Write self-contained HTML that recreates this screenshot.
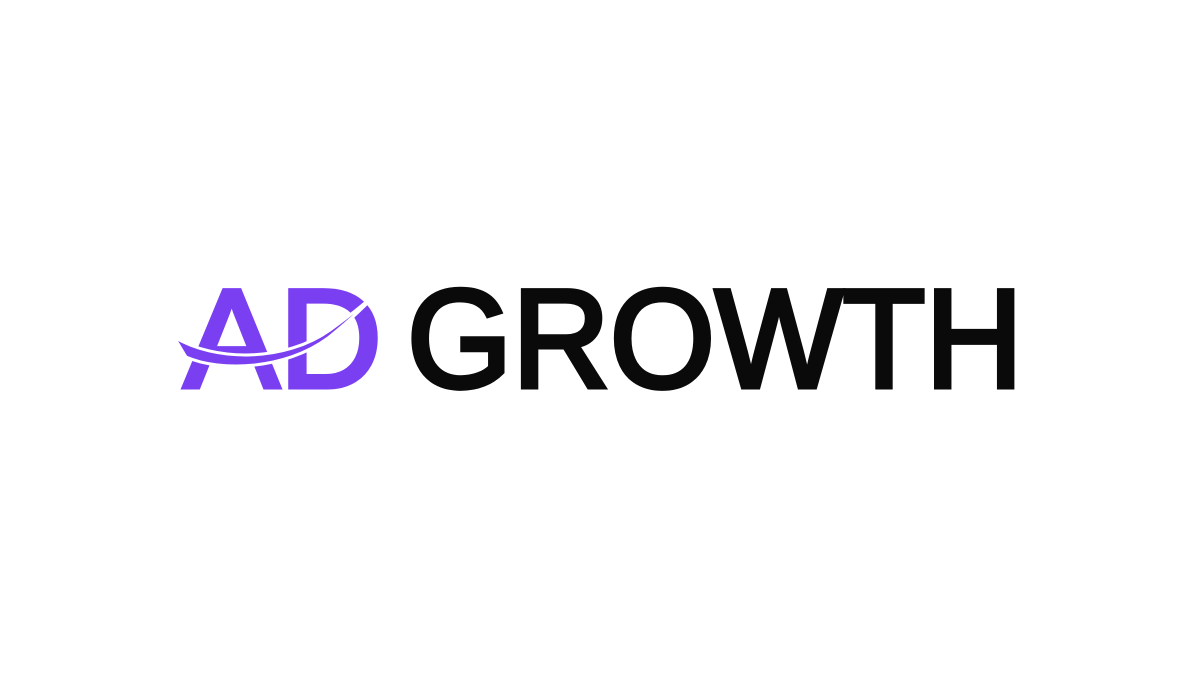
<!DOCTYPE html>
<html>
<head>
<meta charset="utf-8">
<style>
  html,body{margin:0;padding:0;background:#fff;}
  svg{display:block;}
</style>
</head>
<body>
<svg width="1200" height="675" viewBox="0 0 1200 675">
  <rect width="1200" height="675" fill="#ffffff"/>
  <text x="184" y="387" font-family="'Liberation Sans', 'DejaVu Sans', sans-serif" font-weight="normal" font-size="140" fill="#7b3ff2" stroke="#7b3ff2" stroke-width="5" textLength="198" lengthAdjust="spacingAndGlyphs">AD</text>
  <path d="M174,337 C215,362 285,362 330,330 C352,314 370,300 383,286 C368,304 348,322 328,338 C285,370 220,372 186,357 Z" fill="#7b3ff2" stroke="#ffffff" stroke-width="3"/>
  <text x="407" y="387" font-family="'Liberation Sans', 'DejaVu Sans', sans-serif" font-weight="normal" font-size="140" fill="#0a0a0a" stroke="#0a0a0a" stroke-width="5" textLength="616" lengthAdjust="spacingAndGlyphs">GROWTH</text>
</svg>
</body>
</html>
